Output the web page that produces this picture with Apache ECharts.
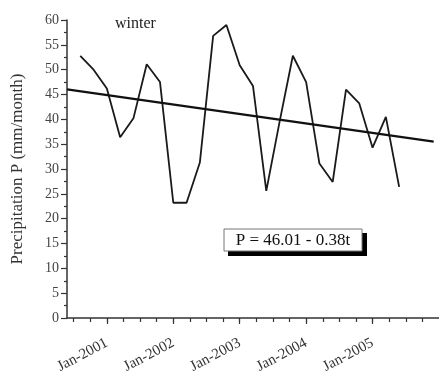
<!DOCTYPE html>
<html>
<head>
<meta charset="utf-8">
<script src="https://cdn.jsdelivr.net/npm/echarts@6/dist/echarts.min.js"></script>
<style>
  html, body { margin: 0; padding: 0; background: #fff; }
  #chart { width: 439px; height: 374px; }
</style>
</head>
<body>
<div id="chart"></div>
<script>
// t = index of winter month (5 per winter), as in P = a + b*t
const t = [1, 2, 3, 4, 5, 6, 7, 8, 9, 10, 11, 12, 13, 14, 15, 16, 17, 18, 19, 20, 21, 22, 23, 24, 25];
const precip = [52.8, 50.0, 46.2, 36.4, 40.2, 51.1, 47.5, 23.2, 23.2, 31.3, 56.8, 59.0, 50.9, 46.7, 25.6,
                39.5, 52.8, 47.5, 31.1, 27.4, 46.0, 43.2, 34.3, 40.5, 26.4];

const trendA = 46.01;
const trendB = -0.38;
const trendT = [0, 27.6];

const yearLabels = ['Jan-2001', 'Jan-2002', 'Jan-2003', 'Jan-2004', 'Jan-2005'];
const yearPos = [3, 8, 13, 18, 23];
const quarterPos = [0.5, 1.75, 3, 4.25, 5.5, 6.75, 8, 9.25, 10.5, 11.75, 13, 14.25, 15.5, 16.75,
                    18, 19.25, 20.5, 21.75, 23, 24.25, 25.5, 26.75];

const FONT = '"Liberation Serif", "DejaVu Serif", serif';

const chart = echarts.init(document.getElementById('chart'));

chart.setOption({
    animation: false,
    grid: { left: 67, right: 0, top: 20, bottom: 56, outerBoundsMode: 'none' },
    xAxis: [
        {
            type: 'value', min: 0, max: 28,
            axisLine: { lineStyle: { color: '#333', width: 1.5 } },
            axisTick: { show: true, length: 4, customValues: quarterPos, lineStyle: { color: '#333', width: 1.2 } },
            axisLabel: { show: false },
            splitLine: { show: false }
        },
        {
            type: 'value', min: 0, max: 28, position: 'bottom',
            axisLine: { show: false },
            axisTick: { show: true, length: 6, customValues: yearPos, lineStyle: { color: '#333', width: 1.2 } },
            axisLabel: {
                customValues: yearPos,
                formatter: v => yearLabels[yearPos.indexOf(v)] || '',
                rotate: 28, margin: 24,
                fontFamily: FONT, fontSize: 15, color: '#333'
            },
            splitLine: { show: false }
        }
    ],
    yAxis: {
        type: 'value', min: 0, max: 60, interval: 5,
        name: 'Precipitation P (mm/month)',
        nameLocation: 'middle', nameGap: 41,
        nameTextStyle: { fontFamily: FONT, fontSize: 17, color: '#333' },
        axisLine: { show: true, lineStyle: { color: '#333', width: 1.5 } },
        axisTick: { show: true, length: 6, lineStyle: { color: '#333', width: 1.2 } },
        minorTick: { show: true, splitNumber: 2, length: 3, lineStyle: { color: '#333', width: 1.2 } },
        axisLabel: { fontFamily: FONT, fontSize: 14, color: '#444', margin: 8 },
        splitLine: { show: false }
    },
    series: [
        {
            type: 'line',
            data: t.map((v, i) => [v, precip[i]]),
            symbol: 'none',
            lineStyle: { color: '#1a1a1a', width: 1.8 }
        },
        {
            type: 'line',
            data: trendT.map(v => [v, trendA + trendB * v]),
            symbol: 'none',
            lineStyle: { color: '#111', width: 2.3 }
        }
    ],
    graphic: [
        {
            type: 'text', left: 115, top: 16,
            style: { text: 'winter', fontFamily: FONT, fontSize: 16, fill: '#222' }
        },
        {
            type: 'rect', shape: { x: 228, y: 233, width: 139, height: 23 },
            style: { fill: '#000' }
        },
        {
            type: 'rect', shape: { x: 224, y: 229, width: 138, height: 22 },
            style: { fill: '#fff', stroke: '#777', lineWidth: 1 }
        },
        {
            type: 'text', x: 293, y: 241,
            style: { text: 'P = 46.01 - 0.38t', fontFamily: FONT, fontSize: 17, fill: '#111',
                     align: 'center', verticalAlign: 'middle' }
        }
    ]
});
</script>
</body>
</html>
